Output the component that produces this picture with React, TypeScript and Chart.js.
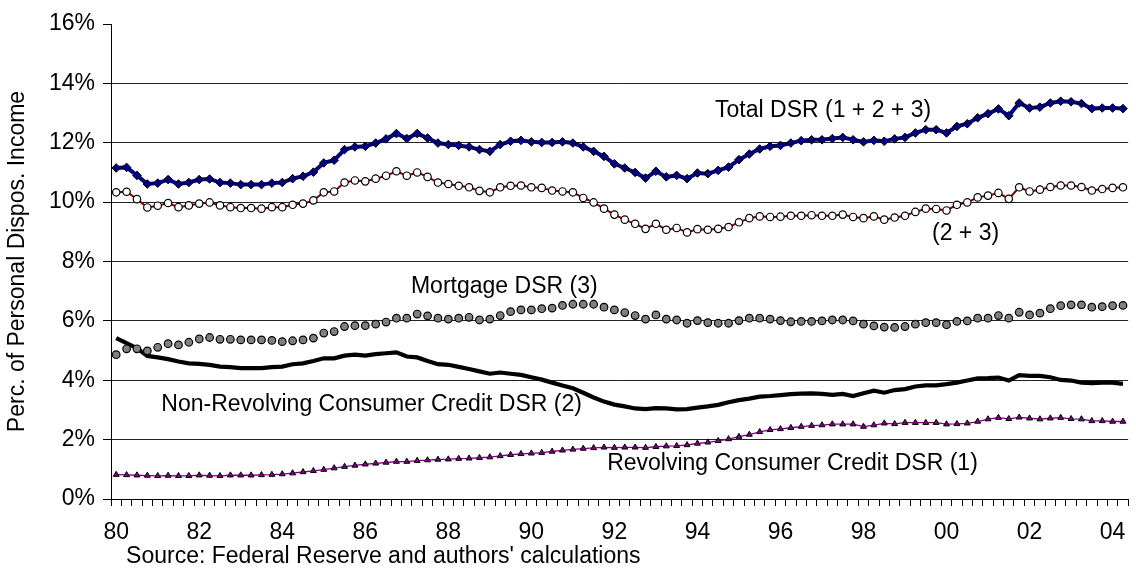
import React, { useEffect, useRef } from "react";
import { Chart, registerables } from "chart.js";

Chart.register(...registerables);

const START_YEAR = 1980;
const QUARTER_COUNT = 98;
const categories: string[] = [];
for (let i = 0; i < QUARTER_COUNT; i++) {
  categories.push(`${START_YEAR + Math.floor(i / 4)}Q${(i % 4) + 1}`);
}

const tickLabels = ["80", "82", "84", "86", "88", "90", "92", "94", "96", "98", "00", "02", "04"];

const totalDSR = [
  11.15, 11.17, 10.90, 10.61, 10.64, 10.76, 10.61, 10.66, 10.76, 10.78,
  10.66, 10.64, 10.59, 10.59, 10.59, 10.64, 10.66, 10.79, 10.87, 11.01,
  11.32, 11.41, 11.77, 11.86, 11.88, 11.99, 12.13, 12.31, 12.14, 12.31,
  12.16, 11.99, 11.94, 11.91, 11.86, 11.77, 11.71, 11.94, 12.05, 12.08,
  12.03, 12.01, 12.01, 12.03, 11.99, 11.86, 11.71, 11.54, 11.29, 11.15,
  11.00, 10.81, 11.04, 10.85, 10.90, 10.79, 10.98, 10.96, 11.07, 11.18,
  11.43, 11.62, 11.79, 11.88, 11.91, 11.99, 12.07, 12.10, 12.10, 12.14,
  12.18, 12.10, 12.03, 12.08, 12.05, 12.13, 12.18, 12.33, 12.44, 12.44,
  12.33, 12.55, 12.64, 12.84, 12.98, 13.14, 12.91, 13.34, 13.17, 13.20,
  13.34, 13.40, 13.38, 13.32, 13.15, 13.17, 13.17, 13.15,
];

const nonRevPlusMortgage = [
  10.33, 10.35, 10.10, 9.82, 9.88, 9.97, 9.83, 9.89, 9.95, 9.99,
  9.89, 9.83, 9.80, 9.80, 9.78, 9.83, 9.83, 9.91, 9.95, 10.06,
  10.33, 10.36, 10.66, 10.73, 10.70, 10.79, 10.89, 11.04, 10.89, 11.00,
  10.85, 10.66, 10.61, 10.55, 10.50, 10.38, 10.33, 10.50, 10.55, 10.56,
  10.50, 10.48, 10.39, 10.36, 10.33, 10.14, 9.99, 9.78, 9.58, 9.41,
  9.27, 9.10, 9.27, 9.07, 9.13, 8.98, 9.09, 9.07, 9.10, 9.16,
  9.32, 9.46, 9.52, 9.50, 9.51, 9.54, 9.54, 9.56, 9.54, 9.54,
  9.58, 9.50, 9.46, 9.52, 9.41, 9.48, 9.54, 9.67, 9.78, 9.77,
  9.72, 9.91, 9.99, 10.16, 10.22, 10.31, 10.11, 10.50, 10.36, 10.42,
  10.51, 10.56, 10.56, 10.51, 10.39, 10.44, 10.48, 10.50,
];

const mortgageDSR = [
  4.86, 5.06, 5.06, 4.99, 5.11, 5.23, 5.19, 5.28, 5.39, 5.44,
  5.38, 5.38, 5.36, 5.36, 5.36, 5.34, 5.30, 5.33, 5.36, 5.42,
  5.59, 5.64, 5.81, 5.84, 5.84, 5.89, 5.96, 6.09, 6.09, 6.23,
  6.17, 6.09, 6.06, 6.09, 6.12, 6.03, 6.06, 6.18, 6.31, 6.37,
  6.37, 6.41, 6.43, 6.52, 6.56, 6.56, 6.56, 6.46, 6.37, 6.28,
  6.18, 6.06, 6.20, 6.06, 6.03, 5.92, 6.01, 5.94, 5.92, 5.92,
  6.01, 6.09, 6.09, 6.06, 6.01, 5.97, 5.98, 5.98, 6.00, 6.03,
  6.03, 6.00, 5.89, 5.83, 5.79, 5.78, 5.81, 5.89, 5.94, 5.94,
  5.87, 5.98, 6.00, 6.09, 6.09, 6.18, 6.09, 6.29, 6.20, 6.26,
  6.41, 6.51, 6.54, 6.54, 6.46, 6.48, 6.51, 6.52,
];

const nonRevolvingDSR = [
  5.42, 5.25, 5.08, 4.82, 4.77, 4.71, 4.63, 4.57, 4.55, 4.52,
  4.46, 4.44, 4.41, 4.41, 4.41, 4.44, 4.46, 4.54, 4.57, 4.65,
  4.74, 4.74, 4.83, 4.86, 4.83, 4.88, 4.91, 4.94, 4.80, 4.77,
  4.65, 4.54, 4.52, 4.45, 4.38, 4.30, 4.22, 4.26, 4.22, 4.18,
  4.10, 4.02, 3.92, 3.82, 3.73, 3.58, 3.42, 3.28, 3.18, 3.12,
  3.05, 3.03, 3.06, 3.05, 3.02, 3.03, 3.08, 3.12, 3.17, 3.26,
  3.33, 3.38, 3.45, 3.47, 3.50, 3.53, 3.55, 3.56, 3.54, 3.51,
  3.54, 3.47, 3.56, 3.65, 3.58, 3.67, 3.70, 3.79, 3.83, 3.83,
  3.87, 3.92, 3.99, 4.06, 4.07, 4.09, 3.99, 4.17, 4.15, 4.15,
  4.10, 4.01, 3.99, 3.92, 3.90, 3.92, 3.92, 3.88,
];

const revolvingDSR = [
  0.82, 0.81, 0.80, 0.79, 0.78, 0.79, 0.78, 0.78, 0.80, 0.79,
  0.78, 0.80, 0.80, 0.80, 0.81, 0.82, 0.84, 0.87, 0.91, 0.95,
  0.99, 1.04, 1.09, 1.13, 1.17, 1.20, 1.23, 1.26, 1.26, 1.29,
  1.31, 1.33, 1.34, 1.36, 1.37, 1.39, 1.41, 1.45, 1.49, 1.52,
  1.54, 1.56, 1.60, 1.64, 1.67, 1.70, 1.72, 1.74, 1.73, 1.74,
  1.74, 1.73, 1.76, 1.78, 1.79, 1.82, 1.87, 1.91, 1.96, 2.02,
  2.10, 2.17, 2.26, 2.33, 2.36, 2.40, 2.44, 2.47, 2.49, 2.52,
  2.52, 2.52, 2.44, 2.49, 2.55, 2.53, 2.57, 2.57, 2.57, 2.57,
  2.52, 2.53, 2.55, 2.61, 2.69, 2.74, 2.70, 2.75, 2.72, 2.69,
  2.72, 2.74, 2.70, 2.69, 2.63, 2.63, 2.61, 2.61,
];

const seriesLabels = [
  "Total DSR (1 + 2 + 3)",
  "(2 + 3)",
  "Mortgage DSR (3)",
  "Non-Revolving Consumer Credit DSR (2)",
  "Revolving Consumer Credit DSR (1)",
];

// Text annotations anchored in data space: [category index, value]
const annotations = [
  { text: seriesLabels[0], idx: 57.7, value: 13.08 },
  { text: seriesLabels[1], idx: 78.6, value: 8.93 },
  { text: seriesLabels[2], idx: 28.4, value: 7.15 },
  { text: seriesLabels[3], idx: 4.35, value: 3.17 },
  { text: seriesLabels[4], idx: 47.3, value: 1.18 },
];

const sourceText = "Source: Federal Reserve and authors' calculations";
const yTitle = "Perc. of Personal Dispos. Income";

const FONT_FAMILY = '"Liberation Sans", Arial, sans-serif';
const FONT_SIZE = 23;

const annotationPlugin = {
  id: "textAnnotations",
  afterDatasetsDraw(chart: any) {
    const { ctx, scales } = chart;
    const xs = scales.x;
    const ys = scales.y;
    ctx.save();
    ctx.font = `${FONT_SIZE}px ${FONT_FAMILY}`;
    ctx.fillStyle = "#000";
    ctx.textAlign = "left";
    ctx.textBaseline = "middle";
    for (const a of annotations) {
      const x = xs.getPixelForValue(a.idx);
      const y = ys.getPixelForValue(a.value);
      ctx.fillText(a.text, x, y);
    }
    ctx.fillText(sourceText, xs.getPixelForValue(0.95), chart.height - 13);
    ctx.restore();
  },
};

export default function App() {
  const canvasRef = useRef<HTMLCanvasElement | null>(null);

  useEffect(() => {
    document.body.style.margin = "0";
    const canvas = canvasRef.current;
    if (!canvas) return;
    const chart = new Chart(canvas, {
      type: "line",
      data: {
        labels: categories,
        datasets: [
          {
            label: seriesLabels[0],
            data: totalDSR,
            borderColor: "#000080",
            borderWidth: 4,
            backgroundColor: "#000080",
            pointStyle: "rectRot",
            pointRadius: 4.3,
            pointBorderColor: "#000",
            pointBorderWidth: 1,
            tension: 0,
            order: 1,
          },
          {
            label: seriesLabels[1],
            data: nonRevPlusMortgage,
            borderColor: "#800000",
            borderWidth: 2,
            backgroundColor: "#ffffff",
            pointStyle: "circle",
            pointRadius: 3.7,
            pointBorderColor: "#000",
            pointBorderWidth: 1.2,
            tension: 0,
            order: 2,
          },
          {
            label: seriesLabels[2],
            data: mortgageDSR,
            showLine: false,
            borderColor: "#000",
            backgroundColor: "#808080",
            pointStyle: "circle",
            pointRadius: 3.8,
            pointBorderColor: "#000",
            pointBorderWidth: 1.2,
            order: 3,
          },
          {
            label: seriesLabels[3],
            data: nonRevolvingDSR,
            borderColor: "#000",
            borderWidth: 4.2,
            pointRadius: 0,
            tension: 0,
            order: 4,
          },
          {
            label: seriesLabels[4],
            data: revolvingDSR,
            borderColor: "#800080",
            borderWidth: 1.3,
            backgroundColor: "#800080",
            pointStyle: "triangle",
            pointRadius: 3.4,
            pointBorderColor: "#000",
            pointBorderWidth: 1,
            tension: 0,
            order: 5,
          },
        ],
      },
      options: {
        responsive: false,
        animation: false,
        devicePixelRatio: 1,
        layout: { padding: { top: 24, right: 0, bottom: 0, left: 0 } },
        plugins: {
          legend: { display: false },
          tooltip: { enabled: false },
        },
        scales: {
          x: {
            type: "category",
            offset: true,
            grid: {
              offset: true,
              drawOnChartArea: false,
              drawTicks: true,
              tickLength: 7,
              color: "#000",
              tickColor: "#000",
            },
            border: { display: true, color: "#000", width: 1 },
            ticks: {
              autoSkip: false,
              maxRotation: 0,
              minRotation: 0,
              padding: 13,
              color: "#000",
              font: { family: FONT_FAMILY, size: FONT_SIZE },
              callback: (_v: any, index: number) =>
                index % 8 === 0 ? tickLabels[index / 8] ?? "" : "",
            },
            afterFit: (scale: any) => {
              scale.height = 71;
            },
          },
          y: {
            min: 0,
            max: 16,
            grid: {
              color: (c: any) => (c.tick && c.tick.value === 16 ? "rgba(0,0,0,0)" : "#222"),
              tickColor: "#000",
              tickLength: 8,
              lineWidth: 1,
            },
            border: { display: true, color: "#000", width: 1 },
            ticks: {
              stepSize: 2,
              padding: 8,
              color: "#000",
              font: { family: FONT_FAMILY, size: FONT_SIZE },
              callback: (v: any) => `${v}%`,
            },
            title: {
              display: true,
              text: yTitle,
              color: "#000",
              font: { family: FONT_FAMILY, size: FONT_SIZE },
              padding: { top: 4, bottom: 0 },
            },
            afterFit: (scale: any) => {
              scale.width = 111;
            },
          },
        },
      },
      plugins: [annotationPlugin],
    });
    return () => chart.destroy();
  }, []);

  return (
    <div style={{ position: "absolute", left: 0, top: 0, width: 1136, height: 570, background: "#fff" }}>
      <canvas ref={canvasRef} width={1136} height={570} style={{ width: 1136, height: 570 }} />
    </div>
  );
}
